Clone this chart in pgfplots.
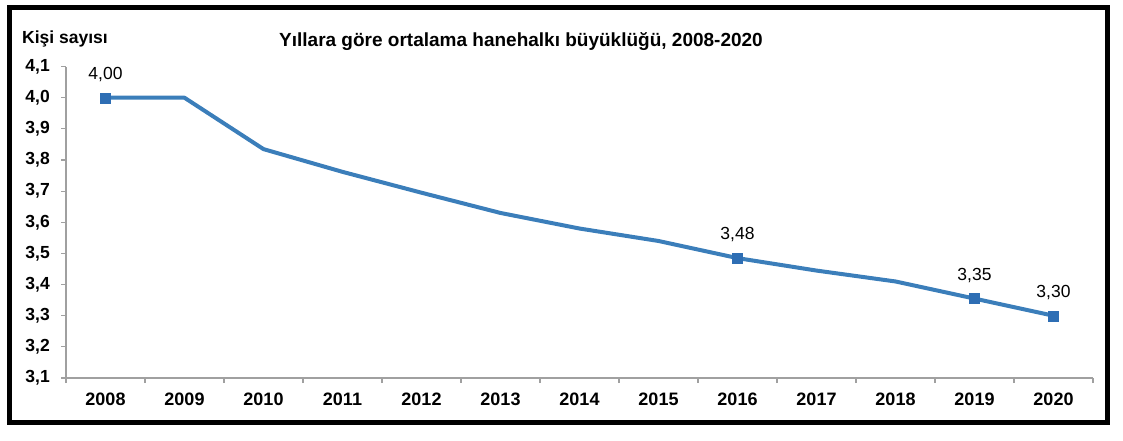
\documentclass[border=0pt]{standalone}
\usepackage{pgfplots}
\pgfplotsset{compat=1.18}
\usepackage{fontspec}
\setmainfont{Liberation Sans}
\definecolor{lineblue}{RGB}{59,126,186}
\definecolor{markblue}{RGB}{46,110,180}
\definecolor{axisgray}{RGB}{160,160,160}
\begin{document}
\begin{tikzpicture}
\path[use as bounding box] (0pt,0pt) rectangle (1123pt,440pt);
\begin{axis}[
    at={(66pt,62pt)}, anchor=south west,
    scale only axis,
    width=1027pt, height=311.4pt,
    xmin=-0.5, xmax=12.5,
    ymin=3.1, ymax=4.1,
    axis x line=bottom, axis y line=left,
    axis line style={draw=axisgray, line width=1.5pt, -},
    tick style={draw=axisgray, line width=1.2pt},
    tick align=outside,
    major tick length=5pt,
    xtick={-0.5,0.5,1.5,2.5,3.5,4.5,5.5,6.5,7.5,8.5,9.5,10.5,11.5,12.5},
    xticklabels={2008,2009,2010,2011,2012,2013,2014,2015,2016,2017,2018,2019,2020},
    x tick label as interval,
    ytick={3.1,3.2,3.3,3.4,3.5,3.6,3.7,3.8,3.9,4.0,4.1},
    /pgf/number format/use comma,
    /pgf/number format/fixed,
    /pgf/number format/fixed zerofill,
    /pgf/number format/precision=1,
    /pgf/number format/assume math mode=true,
    xticklabel style={font=\fontsize{18}{18}\selectfont\bfseries, anchor=base, yshift=-22pt, inner sep=0pt},
    yticklabel style={font=\fontsize{17.5}{17.5}\selectfont\bfseries, anchor=east, inner sep=0pt},
    yticklabel shift=11pt,
    clip=false,
]
% ortalama hanehalki buyuklugu
\addplot[color=lineblue, line width=4pt, line join=round] coordinates {
    (0,4.00) (1,4.00) (2,3.835) (3,3.762) (4,3.695) (5,3.63) (6,3.58)
    (7,3.54) (8,3.485) (9,3.445) (10,3.41) (11,3.355) (12,3.30)
};
% etiketli noktalar
\addplot[only marks, mark=square*, mark size=5pt, color=markblue,
    point meta=explicit symbolic,
    nodes near coords,
    nodes near coords style={font=\fontsize{17.5}{17.5}\selectfont, color=black, anchor=base, yshift=18.5pt, inner sep=0pt}]
    coordinates {
    (0,4.00) [4,00]
    (8,3.485) [3,48]
    (11,3.355) [3,35]
    (12,3.30) [3,30]
};
\end{axis}
\node[anchor=base, inner sep=0pt, font=\fontsize{19}{19}\selectfont\bfseries] at (521pt,393pt) {Yıllara göre ortalama hanehalkı büyüklüğü, 2008-2020};
\node[anchor=base west, inner sep=0pt, font=\fontsize{17.5}{17.5}\selectfont\bfseries] at (22pt,396pt) {Kişi sayısı};
\draw[black, line width=4.5pt] (9.5pt,432.5pt) rectangle (1107.5pt,17.5pt);
\end{tikzpicture}
\end{document}
